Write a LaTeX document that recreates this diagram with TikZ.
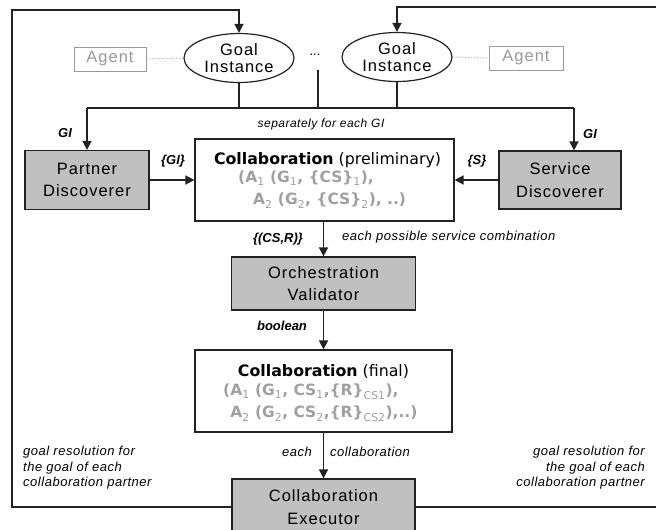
\documentclass[tikz,border=0pt]{standalone}
\usepackage{fontspec}
\setmainfont{Liberation Sans}
\newfontfamily\verd{DejaVu Sans}
\newfontfamily\boxfont[LetterSpace=6]{Liberation Sans}
\newfontfamily\lblfont[LetterSpace=4]{Liberation Sans}
\usetikzlibrary{arrows.meta,shapes.geometric}
\definecolor{ln}{HTML}{222222}
\definecolor{boxfill}{HTML}{C0C0C0}
\definecolor{txtgray}{HTML}{999999}
\definecolor{frmgray}{HTML}{A0A0A0}
\newcommand\lsub[1]{\textsubscript{\mdseries #1}}
\begin{document}
\begin{tikzpicture}[x=1pt,y=-1pt,
 conn/.style={draw=ln, line width=1.5pt},
 arr/.style={conn, -{Triangle[length=9pt,width=9pt]}},
 procbox/.style={draw=ln, line width=1.2pt, fill=boxfill, align=center, font=\fontsize{16.5}{22.5}\boxfont, inner sep=0pt},
 databox/.style={draw=ln, line width=1.2pt, fill=white, inner sep=0pt},
 agentbox/.style={draw=txtgray, line width=1pt, text=txtgray, font=\fontsize{16.5}{18}\boxfont, minimum width=72pt, minimum height=24pt, inner sep=0pt},
 goal/.style={ellipse, draw=ln, line width=1.2pt, align=center, font=\fontsize{16.5}{17.5}\boxfont, minimum width=110pt, minimum height=49pt, inner sep=0pt},
 lbl/.style={font=\fontsize{13}{15.5}\lblfont\itshape, inner sep=0pt},
 blbl/.style={font=\fontsize{13}{15}\selectfont\bfseries\itshape, inner sep=0pt},
 ctitle/.style={font=\fontsize{15.8}{18}\selectfont\verd, inner sep=0pt},
 cform/.style={font=\fontsize{15.5}{22}\selectfont\verd\bfseries, text=frmgray, align=left, inner sep=0pt},
]
\useasboundingbox (0,0) rectangle (656,530);
\clip (0,0) rectangle (656,530);

% goal instances and agents
\node[goal] (goalL) at (239,58) {Goal\\Instance};
\node[goal] (goalR) at (397,57) {Goal\\Instance};
\node[agentbox] (agentL) at (110,59) {Agent};
\node[agentbox, minimum width=74pt] (agentR) at (526,58) {Agent};
\node[font=\fontsize{13}{15}\selectfont, inner sep=0pt] (dots) at (315,55) {...};
\draw[txtgray, line width=1pt, dotted] (agentL.east) -- (goalL.west);
\draw[txtgray, line width=1pt, dotted] (goalR.east) -- (agentR.west);

% processing boxes
\node[procbox, minimum width=124pt, minimum height=59pt] (pd) at (87,180) {Partner\\Discoverer};
\node[procbox, minimum width=122pt, minimum height=58pt] (sd) at (560,180) {Service\\Discoverer};
\node[procbox, minimum width=184pt, minimum height=53pt] (ov) at (323.5,283.5) {Orchestration\\Validator};
\node[procbox, minimum width=183pt, minimum height=56pt] (ex) at (323.5,507) {Collaboration\\Executor};

% collaboration boxes
\node[databox, minimum width=259pt, minimum height=82pt] (collabP) at (324.5,180) {};
\node[ctitle] (collabPt) at (327.5,160) {\textbf{Collaboration} (preliminary)};
\node[cform, anchor=north west] (collabPf) at (238,171) {(A\lsub{1} (G\lsub{1}, \{CS\}\lsub{1}),\\\hspace*{15pt}A\lsub{2} (G\lsub{2}, \{CS\}\lsub{2}), ..)};

\node[databox, minimum width=257pt, minimum height=82pt] (collabF) at (323.5,391) {};
\node[ctitle] (collabFt) at (323.5,372) {\textbf{Collaboration} (final)};
\node[cform, anchor=north west] (collabFf) at (223,384) {(A\lsub{1} (G\lsub{1}, CS\lsub{1},\{R\}\lsub{CS1}),\\\phantom{(}A\lsub{2} (G\lsub{2}, CS\lsub{2},\{R\}\lsub{CS2}),..)};

% distribution bar
\coordinate (barL) at (87,108);
\coordinate (barR) at (574,108);
\coordinate (dstem) at (318,70);
\draw[conn] (barL) -- (barR);
\draw[conn] (goalL.south) -- (goalL.south |- barL);
\draw[conn] (goalR.south) -- (goalR.south |- barL);
\draw[conn] (dstem) -- (dstem |- barL);
\draw[arr] (barL) -- (pd.north);
\draw[arr] (barR) -- (barR |- sd.north);

% main flow
\draw[arr] (pd.east) -- (collabP.west);
\draw[arr] (sd.west) -- (collabP.east);
\draw[arr] (collabP.south -| ov.north) -- (ov.north);
\draw[arr] (ov.south) -- (collabF.north -| ov.south);
\draw[arr] (collabF.south) -- (ex.north);

% feedback loops
\coordinate (lt) at (12,10);
\coordinate (rt) at (662,7);
\draw[arr] (ex.west) -| (lt) -| (goalL.north);
\draw[arr] (ex.east) -| (rt) -| (goalR.north);

% labels
\node[lbl, font=\fontsize{12}{14}\lblfont\itshape] (sep) at (321,124) {separately for each GI};
\node[blbl] (giL) at (65,133) {GI};
\node[blbl] (giR) at (590,134) {GI};
\node[blbl] (giset) at (173,161) {\{GI\}};
\node[blbl] (sset) at (477,161) {\{S\}};
\node[blbl] (csr) at (278,239) {\{(CS,R)\}};
\node[lbl, anchor=west] (eachcomb) at (342,237) {each possible service combination};
\node[blbl] (bool) at (282,326) {boolean};
\node[lbl] (each) at (297,452) {each};
\node[lbl] (collab) at (370,452) {collaboration};
\node[lbl, align=left, anchor=west] (grL) at (23,468) {goal resolution for\\the goal of each\\collaboration partner};
\node[lbl, align=right, anchor=east] (grR) at (645,468) {goal resolution for\\the goal of each\\collaboration partner};
\end{tikzpicture}
\end{document}
